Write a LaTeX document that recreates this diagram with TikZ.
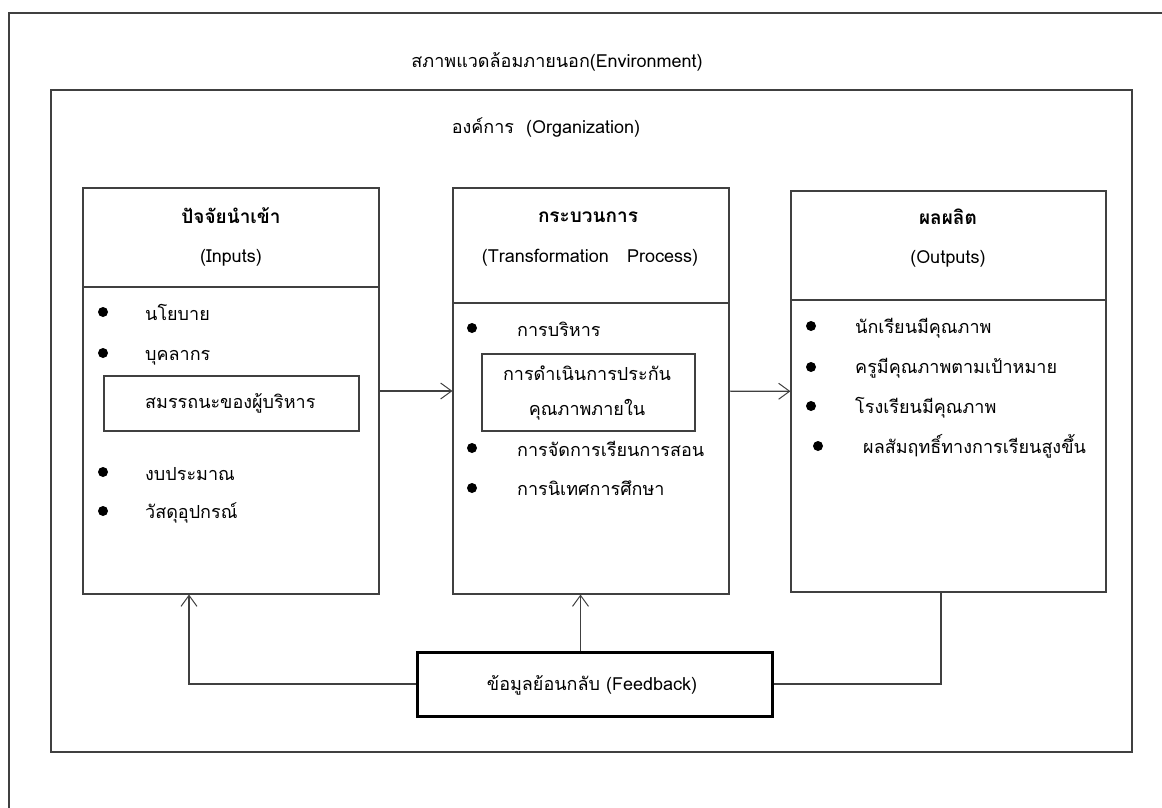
\documentclass[tikz,border=0pt]{standalone}
\usepackage{fontspec}
\setmainfont{Loma}[Script=Thai]
\usetikzlibrary{positioning,arrows.meta}

\begin{document}
\begin{tikzpicture}[x=1pt,y=-1pt,
    line/.style={draw=black!75,line width=1.1pt},
    frame/.style={line,rectangle,inner sep=0pt},
    flow/.style={line,-{Straight Barb[length=11pt,width=16pt,line width=1pt]}},
    txt/.style={font=\fontsize{18}{22}\selectfont,inner sep=0pt,anchor=base west},
    ctxt/.style={font=\fontsize{18}{22}\selectfont,inner sep=0pt,anchor=base},
    head/.style={font=\fontsize{19}{22}\selectfont\bfseries,inner sep=0pt,anchor=base},
    dot/.style={circle,fill=black,inner sep=0pt,minimum size=10pt}]
    \useasboundingbox (0,0) rectangle (1162,808);
    % environment and organization
    \draw[line] (1162,13) -- (9,13) -- (9,808);
    \node[ctxt] (env) at (557,68) {สภาพแวดล้อมภายนอก(Environment)};
    \node[frame,minimum width=1081pt,minimum height=662pt] (org) at (591.5,421) {};
    \node[ctxt] (orgname) at (546,133) {องค์การ~~(Organization)};
    % inputs
    \node[frame,minimum width=296pt,minimum height=406pt] (inputs) at (231,391) {};
    \draw[line] (inputs.west |- 0,287) -- (inputs.east |- 0,287);
    \node[head] (inhead) at (231,223) {ปัจจัยนำเข้า};
    \node[ctxt] (inname) at (231,262) {(Inputs)};
    \node[dot] (ind1) at (103,312) {};
    \node[txt] (in1) at (145,320) {นโยบาย};
    \node[dot] (ind2) at (103,353) {};
    \node[txt] (in2) at (145,360) {บุคลากร};
    \node[frame,minimum width=255pt,minimum height=55pt] (incomp) at (231.5,403.5) {};
    \node[txt] (in3) at (145,408) {สมรรถนะของผู้บริหาร};
    \node[dot] (ind4) at (103,472) {};
    \node[txt] (in4) at (145,480) {งบประมาณ};
    \node[dot] (ind5) at (103,511) {};
    \node[txt] (in5) at (145,518) {วัสดุอุปกรณ์};
    % transformation process
    \node[frame,minimum width=276pt,minimum height=406pt] (process) at (591,391) {};
    \draw[line] (process.west |- 0,303) -- (process.east |- 0,303);
    \node[head] (prhead) at (588,222) {กระบวนการ};
    \node[ctxt] (prname) at (590,262) {(Transformation~~~Process)};
    \node[dot] (prd1) at (472,328) {};
    \node[txt] (pr1) at (517,336) {การบริหาร};
    \node[frame,minimum width=213pt,minimum height=77pt] (prqa) at (588.5,392.5) {};
    \node[ctxt] (pr2) at (587,380) {การดำเนินการประกัน};
    \node[ctxt] (pr3) at (587,415) {คุณภาพภายใน};
    \node[dot] (prd4) at (472,448) {};
    \node[txt] (pr4) at (517,456) {การจัดการเรียนการสอน};
    \node[dot] (prd5) at (472,488) {};
    \node[txt] (pr5) at (517,495) {การนิเทศการศึกษา};
    % outputs
    \node[frame,minimum width=315pt,minimum height=401pt] (outputs) at (948.5,391.5) {};
    \draw[line] (outputs.west |- 0,300) -- (outputs.east |- 0,300);
    \node[head] (outhead) at (948,224) {ผลผลิต};
    \node[ctxt] (outname) at (948,263) {(Outputs)};
    \node[dot] (outd1) at (811,326) {};
    \node[txt] (out1) at (855,333) {นักเรียนมีคุณภาพ};
    \node[dot] (outd2) at (811,367) {};
    \node[txt] (out2) at (855,373) {ครูมีคุณภาพตามเป้าหมาย};
    \node[dot] (outd3) at (811,406) {};
    \node[txt] (out3) at (855,413) {โรงเรียนมีคุณภาพ};
    \node[dot] (outd4) at (818,446) {};
    \node[txt] (out4) at (863,453) {ผลสัมฤทธิ์ทางการเรียนสูงขึ้น};
    % feedback
    \node[frame,line width=3pt,draw=black,minimum width=355pt,minimum height=64pt] (feedback) at (594.5,684) {};
    \node[ctxt] (fbtext) at (592,690) {ข้อมูลย้อนกลับ (Feedback)};
    \draw[flow] (inputs) -- (process);
    \draw[flow] (process) -- (outputs);
    \draw[flow] (feedback.west) -| ([xshift=-42pt]inputs.south);
    \draw[flow] ([xshift=-14pt]feedback.north) -- ([xshift=-14pt]feedback.north |- process.south);
    \draw[line] (feedback.east) -| ([xshift=-7.5pt]outputs.south);
  \end{tikzpicture}
\end{document}
